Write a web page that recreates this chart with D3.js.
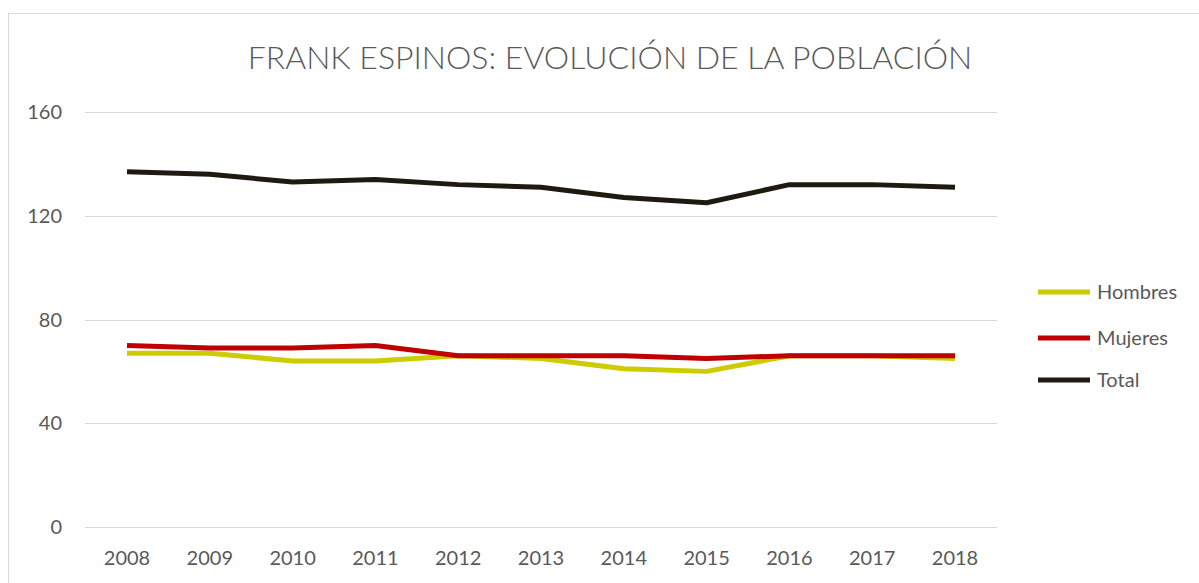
<!DOCTYPE html>
<html><head><meta charset="utf-8">
<script src="https://cdn.jsdelivr.net/npm/d3@7"></script>
<style>body{margin:0;background:#fff;}svg{display:block;font-family:Lato,"Open Sans",sans-serif;}</style>
</head><body>
<svg id="c" width="1199" height="583"></svg>
<script>
const years = ["2008","2009","2010","2011","2012","2013","2014","2015","2016","2017","2018"];
const hombres = [67,67,64,64,66,65,61,60,66,66,65];
const mujeres = [70,69,69,70,66,66,66,65,66,66,66];
const total = [137,136,133,134,132,131,127,125,132,132,131];
const yTicks = [0,40,80,120,160];
const seriesNames = ["Hombres","Mujeres","Total"];
const seriesColors = ["#cccc00","#c00000","#1e1a10"];
const seriesData = [hombres, mujeres, total];

const svg = d3.select("#c");
svg.append("rect").attr("x",8.5).attr("y",13.5).attr("width",1200).attr("height",600)
  .attr("fill","#fff").attr("stroke","#d9d9d9");

const x = d3.scalePoint().domain(years).range([127,955]);
const y = d3.scaleLinear().domain([0,160]).range([527,112]);

svg.append("g").selectAll("line").data(yTicks).join("line")
  .attr("x1",85).attr("x2",997).attr("y1",d=>Math.round(y(d))+0.5).attr("y2",d=>Math.round(y(d))+0.5)
  .attr("stroke","#d9d9d9").attr("stroke-width",1);

svg.append("g").selectAll("text").data(yTicks).join("text")
  .attr("x",62).attr("y",d=>y(d)).attr("dy","0.35em").attr("text-anchor","end")
  .attr("font-size",20).attr("fill","#595959").text(d=>d);

svg.append("g").selectAll("text").data(years).join("text")
  .attr("x",d=>x(d)).attr("y",558).attr("dy","0.35em").attr("text-anchor","middle")
  .attr("font-size",20).attr("fill","#595959").text(d=>d);

const line = d3.line().x((d,i)=>x(years[i])).y(d=>y(d));
seriesData.forEach((s,k)=>{
  svg.append("path").datum(s).attr("d",line).attr("fill","none")
    .attr("stroke",seriesColors[k]).attr("stroke-width",5).attr("stroke-linejoin","round");
});

const leg = svg.append("g");
const legY = [292,338,380];
seriesNames.forEach((n,k)=>{
  leg.append("line").attr("x1",1038).attr("x2",1090).attr("y1",legY[k]).attr("y2",legY[k])
    .attr("stroke",seriesColors[k]).attr("stroke-width",5);
  leg.append("text").attr("x",1097).attr("y",legY[k]).attr("dy","0.35em")
    .attr("font-size",20).attr("fill","#595959").text(n);
});

svg.append("text").attr("x",610).attr("y",58).attr("dy","0.35em").attr("text-anchor","middle")
  .attr("font-size",32).attr("font-weight",300).attr("fill","#595959")
  .text("FRANK ESPINOS: EVOLUCIÓN DE LA POBLACIÓN");
</script>
</body></html>
